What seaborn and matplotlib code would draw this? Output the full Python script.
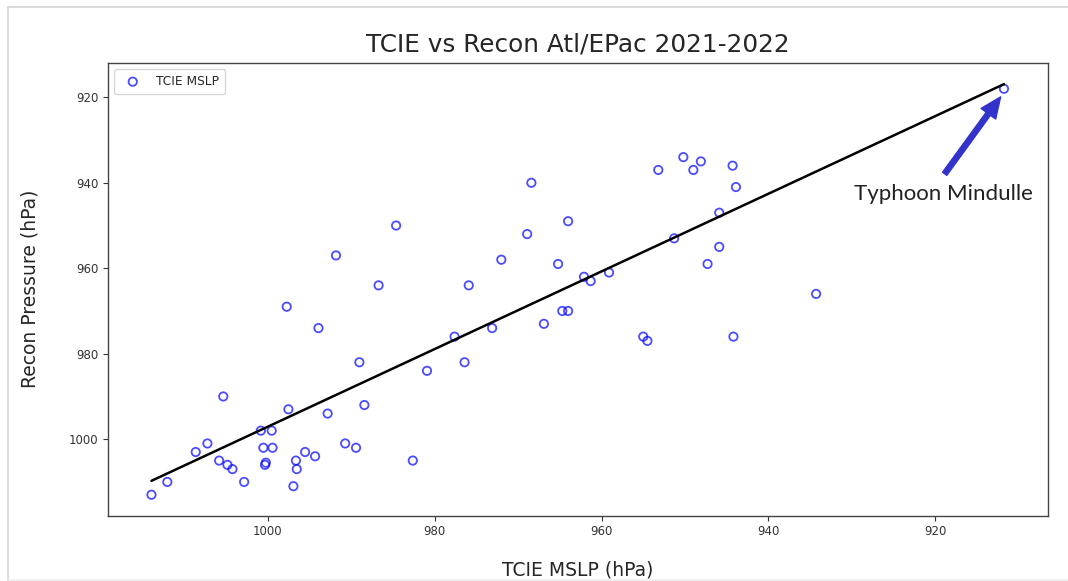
import matplotlib
matplotlib.use("Agg")
import matplotlib.pyplot as plt
from matplotlib.lines import Line2D
import numpy as np
import pandas as pd
import seaborn as sns

# TCIE model minimum sea-level pressure vs reconnaissance-observed pressure (hPa)
tcie_mslp = [
    1013.9, 1012.0, 1008.6, 1007.2, 1005.8, 1004.8, 1004.2, 1002.8, 1005.3, 1000.8,
    1000.5, 1000.3, 1000.2, 999.5, 999.4, 997.7, 997.5, 996.9, 996.6, 996.5,
    995.5, 994.3, 993.9, 992.8, 991.8, 990.7, 989.4, 989.0, 988.4, 986.7,
    984.6, 982.6, 980.9, 977.6, 976.4, 975.9, 973.1, 972.0, 968.9, 968.4,
    966.9, 965.2, 964.7, 964.0, 964.0, 962.1, 961.3, 959.1, 955.0, 954.5,
    953.2, 951.3, 950.2, 949.0, 948.1, 947.3, 945.9, 945.9, 944.3, 943.9,
    944.2, 934.3, 911.8,
]
recon_pressure = [
    1013, 1010, 1003, 1001, 1005, 1006, 1007, 1010, 990, 998,
    1002, 1006, 1005.5, 998, 1002, 969, 993, 1011, 1005, 1007,
    1003, 1004, 974, 994, 957, 1001, 1002, 982, 992, 964,
    950, 1005, 984, 976, 982, 964, 974, 958, 952, 940,
    973, 959, 970, 970, 949, 962, 963, 961, 976, 977,
    937, 953, 934, 937, 935, 959, 947, 955, 936, 941,
    976, 966, 918,
]
x_ticks = [1000, 980, 960, 940, 920]
y_ticks = [920, 940, 960, 980, 1000]

df = pd.DataFrame({"TCIE MSLP": tcie_mslp, "Recon": recon_pressure})

sns.set_style("white")
plt.rcParams["font.family"] = ["DejaVu Sans"]

fig = plt.figure(figsize=(10.68, 5.81), dpi=100)
ax = fig.add_axes([0.1014, 0.1124, 0.8796, 0.7797])

sns.scatterplot(
    data=df, x="TCIE MSLP", y="Recon", ax=ax,
    marker="o", s=36, facecolors="none", edgecolor="blue",
    linewidth=1.3, alpha=0.7, label="TCIE MSLP",
)
sns.regplot(
    data=df, x="TCIE MSLP", y="Recon", ax=ax,
    scatter=False, ci=None, color="black", line_kws={"lw": 1.8},
)

ax.set_xlim(1019.07, 906.56)
ax.set_ylim(1017.9, 911.9)
ax.set_xticks(x_ticks)
ax.set_yticks(y_ticks)
ax.tick_params(axis="both", labelsize=8.5, length=3.5, width=0.8,
               direction="out", bottom=True, left=True, colors="#333333")
for sp in ax.spines.values():
    sp.set_color("#444444")
    sp.set_linewidth(1.0)

ax.set_title("TCIE vs Recon Atl/EPac 2021-2022", fontsize=17.8, pad=8)
ax.set_xlabel("TCIE MSLP (hPa)", fontsize=13.5)
ax.set_ylabel("Recon Pressure (hPa)", fontsize=13.5)
ax.xaxis.set_label_coords(0.5, -0.098)
ax.yaxis.set_label_coords(-0.073, 0.5)

leg = ax.legend(loc="upper left", fontsize=8.8, frameon=True,
                borderpad=0.5, handletextpad=0.9)
leg.get_frame().set_edgecolor("#cccccc")

# Highlight the strongest storm
ax.annotate(
    "", xy=(912.2, 919.9), xytext=(918.9, 937.9),
    arrowprops=dict(facecolor="#3333cc", edgecolor="#3333cc",
                    width=3.8, headwidth=13, headlength=15, shrink=0.0),
)
ax.text(919.1, 942.6, "Typhoon Mindulle", fontsize=16, family="Lato",
        color="#222222", ha="center", va="center")

# Light frame around the figure
gray = "#d4d4d4"
fig.add_artist(Line2D([7.5 / 1068, 7.5 / 1068], [0, 1 - 7 / 581], color=gray, lw=1.2))
fig.add_artist(Line2D([7.5 / 1068, 1], [1 - 7 / 581, 1 - 7 / 581], color=gray, lw=1.2))
fig.add_artist(Line2D([7.5 / 1068, 1], [1.5 / 581, 1.5 / 581], color="#eeeeee", lw=1.2))

fig.savefig("out.png", dpi=100)
